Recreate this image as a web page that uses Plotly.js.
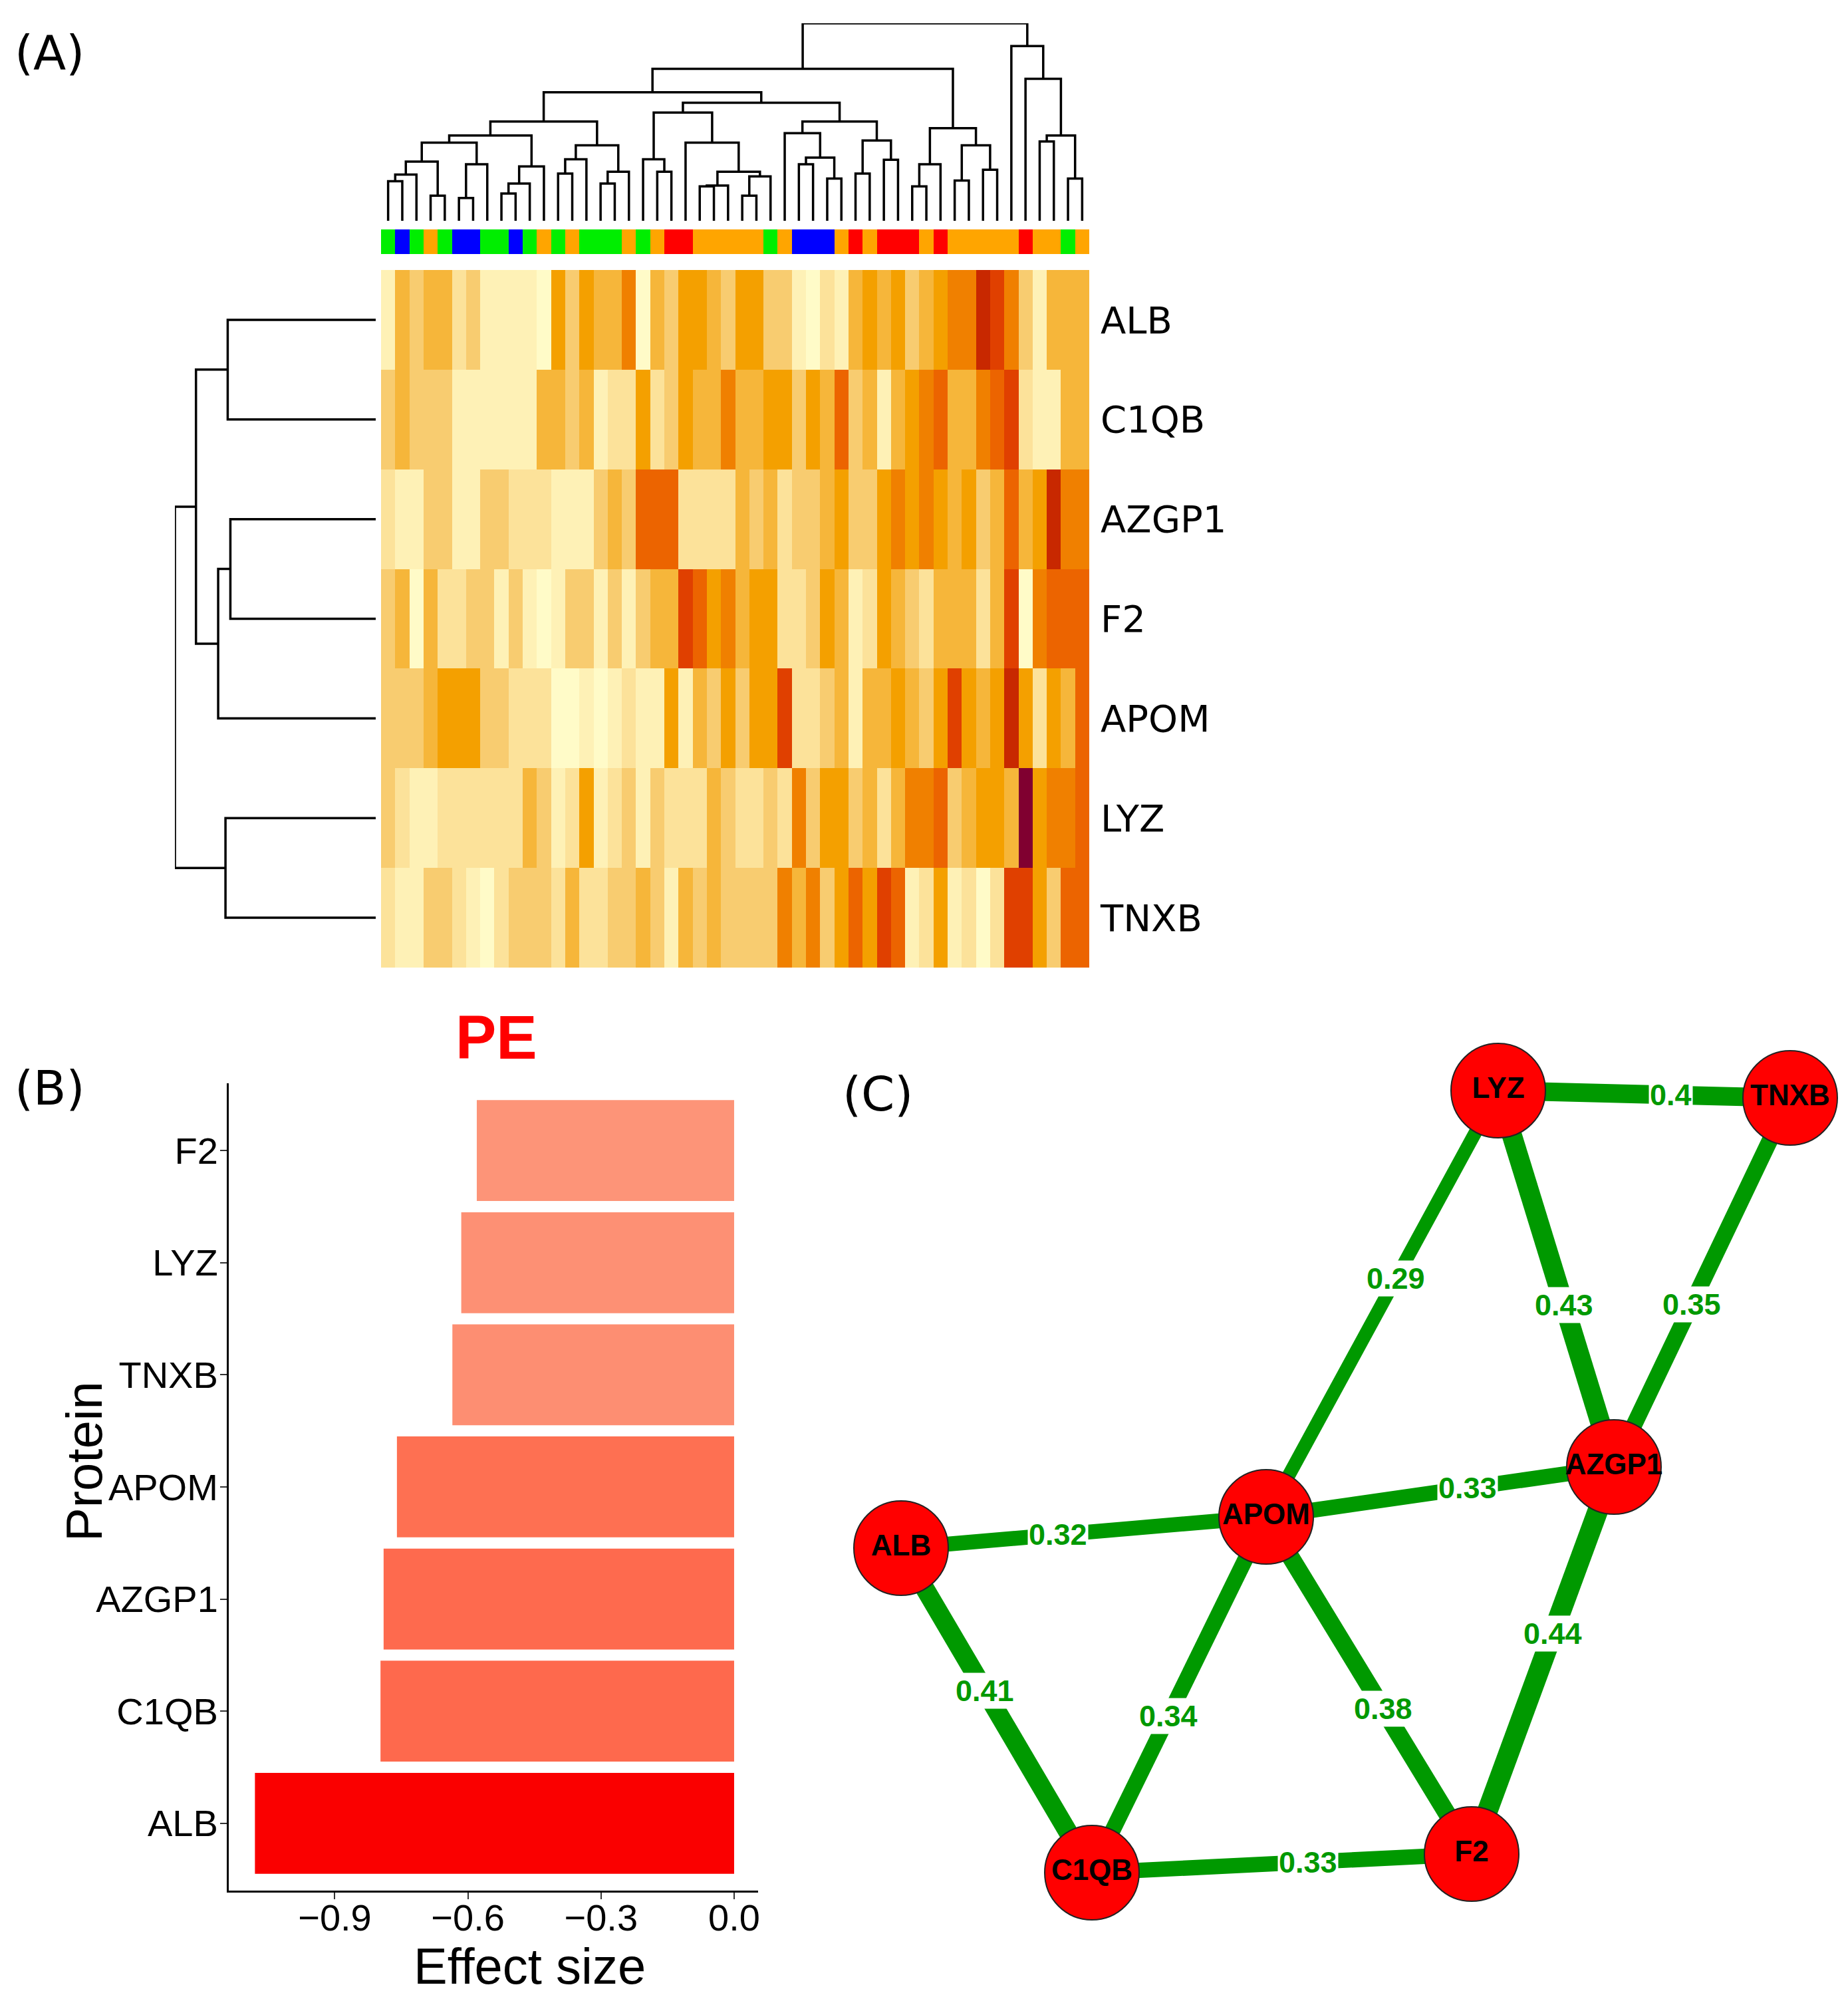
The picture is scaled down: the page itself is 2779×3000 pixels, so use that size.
<!DOCTYPE html>
<html><head><meta charset="utf-8">
<script src="https://cdn.plot.ly/plotly-3.0.1.min.js"></script>
<style>html,body{margin:0;padding:0;background:#fff}</style>
</head><body><div id="chart" style="width:2779px;height:3000px"></div>
<script>
// ---------------- DATA ----------------
// (A) heatmap: proteins (rows, top to bottom) x 50 samples (columns, dendrogram order); binned expression level 0..10
const proteins = ['ALB','C1QB','AZGP1','F2','APOM','LYZ','TNXB'];
const level_ALB   = [1,4,3,4,4,2,3,1,1,1,1,0,5,3,5,4,4,6,0,4,3,5,5,4,3,5,5,3,3,1,0,2,1,4,5,4,5,3,4,5,6,6,9,8,6,3,1,4,4,4];
const level_C1QB  = [3,4,3,3,3,1,1,1,1,1,1,4,4,3,4,1,2,2,5,2,3,5,4,4,6,4,4,5,5,3,5,4,7,3,4,1,4,5,6,7,4,4,6,7,8,2,1,1,4,4];
const level_AZGP1 = [2,1,1,3,3,1,1,3,3,2,2,2,1,1,1,3,4,3,7,7,7,2,2,2,2,4,3,4,2,3,3,4,5,3,3,5,6,5,6,5,4,5,3,4,7,4,5,9,6,6];
const level_F2    = [3,4,0,4,2,2,3,3,1,3,1,0,1,3,3,1,3,1,3,4,4,8,7,5,6,4,5,5,2,2,3,5,4,1,2,5,4,3,2,4,4,4,2,4,8,0,6,7,7,7];
const level_APOM  = [3,3,3,4,5,5,5,3,3,2,2,2,0,0,1,0,1,2,1,1,5,1,4,3,5,3,5,5,8,2,2,3,4,1,4,4,5,4,3,5,8,5,4,5,9,5,2,5,4,7];
const level_LYZ   = [3,2,1,1,2,2,2,2,2,2,4,3,1,2,5,1,2,3,1,3,2,2,2,4,3,2,2,3,2,6,3,5,5,3,4,2,4,6,6,7,3,4,5,5,4,10,5,6,6,7];
const level_TNXB  = [2,1,1,3,3,2,1,0,2,3,3,3,2,4,2,2,3,3,4,3,1,4,3,4,3,3,3,3,6,4,6,3,5,7,5,8,7,1,2,5,1,2,0,2,8,8,5,3,7,7];
// sample group of each column (G green, B blue, O orange, R red)
const sampleGroup = ['G','B','G','O','G','B','B','G','G','B','G','O','G','O','G','G','G','O','G','O',
                     'R','R','O','O','O','O','O','G','O','B','B','B','O','R','O','R','R','R','O','R',
                     'O','O','O','O','O','R','O','O','G','O'];
// column dendrogram (hclust style: negative = leaf, positive = earlier merge; third = height)
const colMerges = [[-1,-2,178],[1,-3,208],[-4,-5,113],[2,3,267],[-6,-7,103],[5,-8,255],[4,6,352],
  [-9,-10,123],[8,-11,168],[9,-12,245],[7,10,384],[-13,-14,213],[12,-15,277],[-16,-17,168],[14,-18,221],
  [13,15,340],[11,16,447],[-20,-21,221],[-19,18,277],[-23,-24,155],[20,-25,159],[-26,-27,113],[22,-28,200],
  [21,23,221],[-22,24,352],[19,25,488],[-30,-31,255],[-32,-33,190],[27,28,285],[-29,29,395],[-34,-35,213],
  [-36,-37,275],[31,32,362],[30,33,447],[26,34,532],[17,35,579],[-38,-39,155],[37,-40,255],[-41,-42,181],
  [-43,-44,230],[39,40,340],[38,41,417],[36,42,685],[-47,-48,357],[-49,-50,190],[44,45,384],[-46,46,640],
  [-45,47,787],[43,48,890]];
// row dendrogram
const rowMerges = [[-1,-2,667],[-3,-4,655],[2,-5,710],[1,3,810],[-6,-7,677],[4,5,905]];

// (B) effect sizes
const barProteins = ['ALB','C1QB','AZGP1','APOM','TNXB','LYZ','F2'];
const effectSize  = [-1.08,-0.797,-0.79,-0.76,-0.635,-0.615,-0.58];

// (C) network
const nodeNames  = ['LYZ','TNXB','AZGP1','APOM','ALB','C1QB','F2'];
const edgeFrom   = ['LYZ','LYZ','LYZ','TNXB','APOM','ALB','ALB','APOM','APOM','AZGP1','C1QB'];
const edgeTo     = ['TNXB','APOM','AZGP1','AZGP1','AZGP1','APOM','C1QB','C1QB','F2','F2','F2'];
const edgeWeight = [0.4,0.29,0.43,0.35,0.33,0.32,0.41,0.34,0.38,0.44,0.33];

// ---------------- LAYOUT HELPERS ----------------
const W = 2779, H = 3000;
const fx = p => p / W, fy = p => 1 - p / H;
// network node placement (pixel layout of panel C)
const nodePos = {LYZ:[2253,1640], TNXB:[2692,1651], AZGP1:[2427,2206], APOM:[1904,2281],
                 ALB:[1355,2328], C1QB:[1642,2816], F2:[2213,2788]};
const labelT = [0.59,0.44,0.57,0.56,0.58,0.43,0.44,0.56,0.57,0.43,0.57];

function dendro(merges) {
  const pos = [], hgt = [], a = [], b = [];
  const get = id => id < 0 ? [-id - 1, 0] : [pos[id - 1], hgt[id - 1]];
  merges.forEach(([l, r, h]) => {
    const [pl, hl] = get(l), [pr, hr] = get(r);
    a.push(pl, pl, pr, pr, null); b.push(hl, h, h, hr, null);
    pos.push((pl + pr) / 2); hgt.push(h);
  });
  return {pos: a, hgt: b};
}

const z = [level_ALB, level_C1QB, level_AZGP1, level_F2, level_APOM, level_LYZ, level_TNXB];
const nCol = level_ALB.length;
const colIdx = Array.from({length: nCol}, (_, i) => i);
const rowIdx = proteins.map((_, i) => i);
const heatColors = ['#FFFBC8','#FEF1B6','#FCE29A','#F8CC70','#F6B63A','#F4A000','#F08000','#EC6400','#E04000','#C82800','#800030'];
const heatScale = heatColors.map((c, i) => [i / 10, c]);
const groupCodes = ['G','B','O','R'];
const groupColors = ['#00EE00','#0000FF','#FFA500','#FF0000'];
const groupScale = [];
groupColors.forEach((c, i) => { groupScale.push([i / 4, c]); groupScale.push([(i + 1) / 4, c]); });

const traces = [];
traces.push({type:'heatmap', x: colIdx, y: rowIdx, z: z, zmin: 0, zmax: 10, colorscale: heatScale,
  showscale: false, xaxis: 'x', yaxis: 'y', hoverinfo: 'skip'});
const cd = dendro(colMerges);
traces.push({type:'scatter', mode:'lines', x: cd.pos, y: cd.hgt, xaxis:'x2', yaxis:'y2',
  line:{color:'#000', width:3.5}, hoverinfo:'skip', cliponaxis:false});
traces.push({type:'heatmap', x: colIdx, y: [0], z: [sampleGroup.map(g => groupCodes.indexOf(g) + 0.5)],
  zmin: 0, zmax: 4, colorscale: groupScale, showscale: false, xaxis:'x3', yaxis:'y3', hoverinfo:'skip'});
const rd = dendro(rowMerges);
traces.push({type:'scatter', mode:'lines', x: rd.hgt, y: rd.pos, xaxis:'x4', yaxis:'y4',
  line:{color:'#000', width:3.5}, hoverinfo:'skip', cliponaxis:false});

// bar chart
traces.push({type:'bar', orientation:'h', y: barProteins, x: effectSize, xaxis:'x5', yaxis:'y5',
  marker:{color: effectSize, cmin: -1.08, cmax: -0.58,
    colorscale: [[0,'#FA0000'],[0.566,'#FE694D'],[0.64,'#FE7052'],[0.89,'#FD8E72'],[1,'#FD9478']]},
  hoverinfo:'skip'});

// network edges
const annotations = [];
edgeWeight.forEach((w, k) => {
  const p = nodePos[edgeFrom[k]], q = nodePos[edgeTo[k]];
  traces.push({type:'scatter', mode:'lines', x:[p[0], q[0]], y:[p[1], q[1]], xaxis:'x6', yaxis:'y6',
    line:{color:'#009900', width: w * 70}, hoverinfo:'skip', cliponaxis:false});
  const t = labelT[k];
  annotations.push({xref:'x6', yref:'y6', x: p[0] + t * (q[0] - p[0]), y: p[1] + t * (q[1] - p[1]),
    text: String(w), showarrow:false, bgcolor:'#FFFFFF', borderpad: 1,
    font:{family:'Liberation Sans, Arial', size:45, color:'#009900', weight:'bold'}});
});
traces.push({type:'scatter', mode:'markers+text', x: nodeNames.map(n => nodePos[n][0]),
  y: nodeNames.map(n => nodePos[n][1]), text: nodeNames, textposition:'middle center',
  textfont:{family:'Liberation Sans, Arial', size:44, color:'#000', weight:'bold'},
  marker:{size:142, color:'#FF0000', line:{color:'#222', width:2}}, xaxis:'x6', yaxis:'y6',
  hoverinfo:'skip', cliponaxis:false});

// panel labels, title and bar-chart axis titles
const panelFont = {family:'DejaVu Sans', size:72, color:'#000'};
const axFont = {family:'Liberation Sans, Arial', size:76, color:'#000'};
annotations.push({xref:'paper', yref:'paper', x: fx(20), y: fy(79), xanchor:'left', yanchor:'middle', text:'(A)', showarrow:false, font: panelFont});
annotations.push({xref:'paper', yref:'paper', x: fx(20), y: fy(1636), xanchor:'left', yanchor:'middle', text:'(B)', showarrow:false, font: panelFont});
annotations.push({xref:'paper', yref:'paper', x: fx(1265), y: fy(1645), xanchor:'left', yanchor:'middle', text:'(C)', showarrow:false, font: panelFont});
annotations.push({xref:'paper', yref:'paper', x: fx(746), y: fy(1560), xanchor:'center', yanchor:'middle', text:'<b>PE</b>', showarrow:false,
  font:{family:'Liberation Sans, Arial', size:92, color:'#FF0000'}});
annotations.push({xref:'paper', yref:'paper', x: fx(796), y: fy(2956), xanchor:'center', yanchor:'middle', text:'Effect size', showarrow:false, font: axFont});
annotations.push({xref:'paper', yref:'paper', x: fx(126), y: fy(2197), xanchor:'center', yanchor:'middle', text:'Protein', textangle:-90, showarrow:false, font: axFont});

const hidden = {visible:false, showgrid:false, zeroline:false};
const hmX = [fx(573), fx(1638)], hmY = [fy(1455), fy(406)];
const layout = {
  width: W, height: H, margin:{l:0, r:0, t:0, b:0}, paper_bgcolor:'#fff', plot_bgcolor:'rgba(0,0,0,0)',
  showlegend:false,
  xaxis: Object.assign({domain: hmX, range:[-0.5, nCol - 0.5]}, hidden),
  yaxis: {domain: hmY, range:[6.5, -0.5], side:'right', anchor:'x', tickvals: rowIdx, ticktext: proteins,
    ticks:'', showline:false, showgrid:false, zeroline:false, ticklabelstandoff: 16,
    tickfont:{family:'DejaVu Sans', size:56, color:'#000'}},
  xaxis2: Object.assign({domain: hmX, range:[-0.5, nCol - 0.5], anchor:'y2'}, hidden),
  yaxis2: Object.assign({domain:[fy(332), fy(35)], range:[0, 890], anchor:'x2'}, hidden),
  xaxis3: Object.assign({domain: hmX, range:[-0.5, nCol - 0.5], anchor:'y3'}, hidden),
  yaxis3: Object.assign({domain:[fy(382), fy(345)], range:[-0.5, 0.5], anchor:'x3'}, hidden),
  xaxis4: Object.assign({domain:[fx(263), fx(565)], range:[905, 0], anchor:'y4'}, hidden),
  yaxis4: Object.assign({domain: hmY, range:[6.5, -0.5], anchor:'x4'}, hidden),
  xaxis5: {domain:[fx(344), fx(1140)], range:[-1.139, 0.054], anchor:'y5', showgrid:false, zeroline:false,
    showline:true, linecolor:'#000', linewidth:3, ticks:'outside', ticklen:10, tickwidth:2, tickcolor:'#333',
    ticklabelstandoff: -20,
    tickvals:[-0.9,-0.6,-0.3,0], ticktext:['\u22120.9','\u22120.6','\u22120.3','0.0'],
    tickfont:{family:'Liberation Sans, Arial', size:56, color:'#000'}},
  yaxis5: {domain:[fy(2843), fy(1629)], range:[-0.6, 6.6], anchor:'x5', type:'category',
    categoryorder:'array', categoryarray: barProteins, showgrid:false, zeroline:false,
    showline:true, linecolor:'#000', linewidth:3, ticks:'outside', ticklen:10, tickwidth:2, tickcolor:'#333',
    ticklabelstandoff: -8,
    tickfont:{family:'Liberation Sans, Arial', size:56, color:'#000'}},
  xaxis6: Object.assign({domain:[fx(1240), 1], range:[1240, W], anchor:'y6'}, hidden),
  yaxis6: Object.assign({domain:[0, fy(1530)], range:[H, 1530], anchor:'x6'}, hidden),
  bargap: 0.1,
  annotations: annotations
};
Plotly.newPlot('chart', traces, layout, {displayModeBar:false, staticPlot:true});
</script></body></html>
